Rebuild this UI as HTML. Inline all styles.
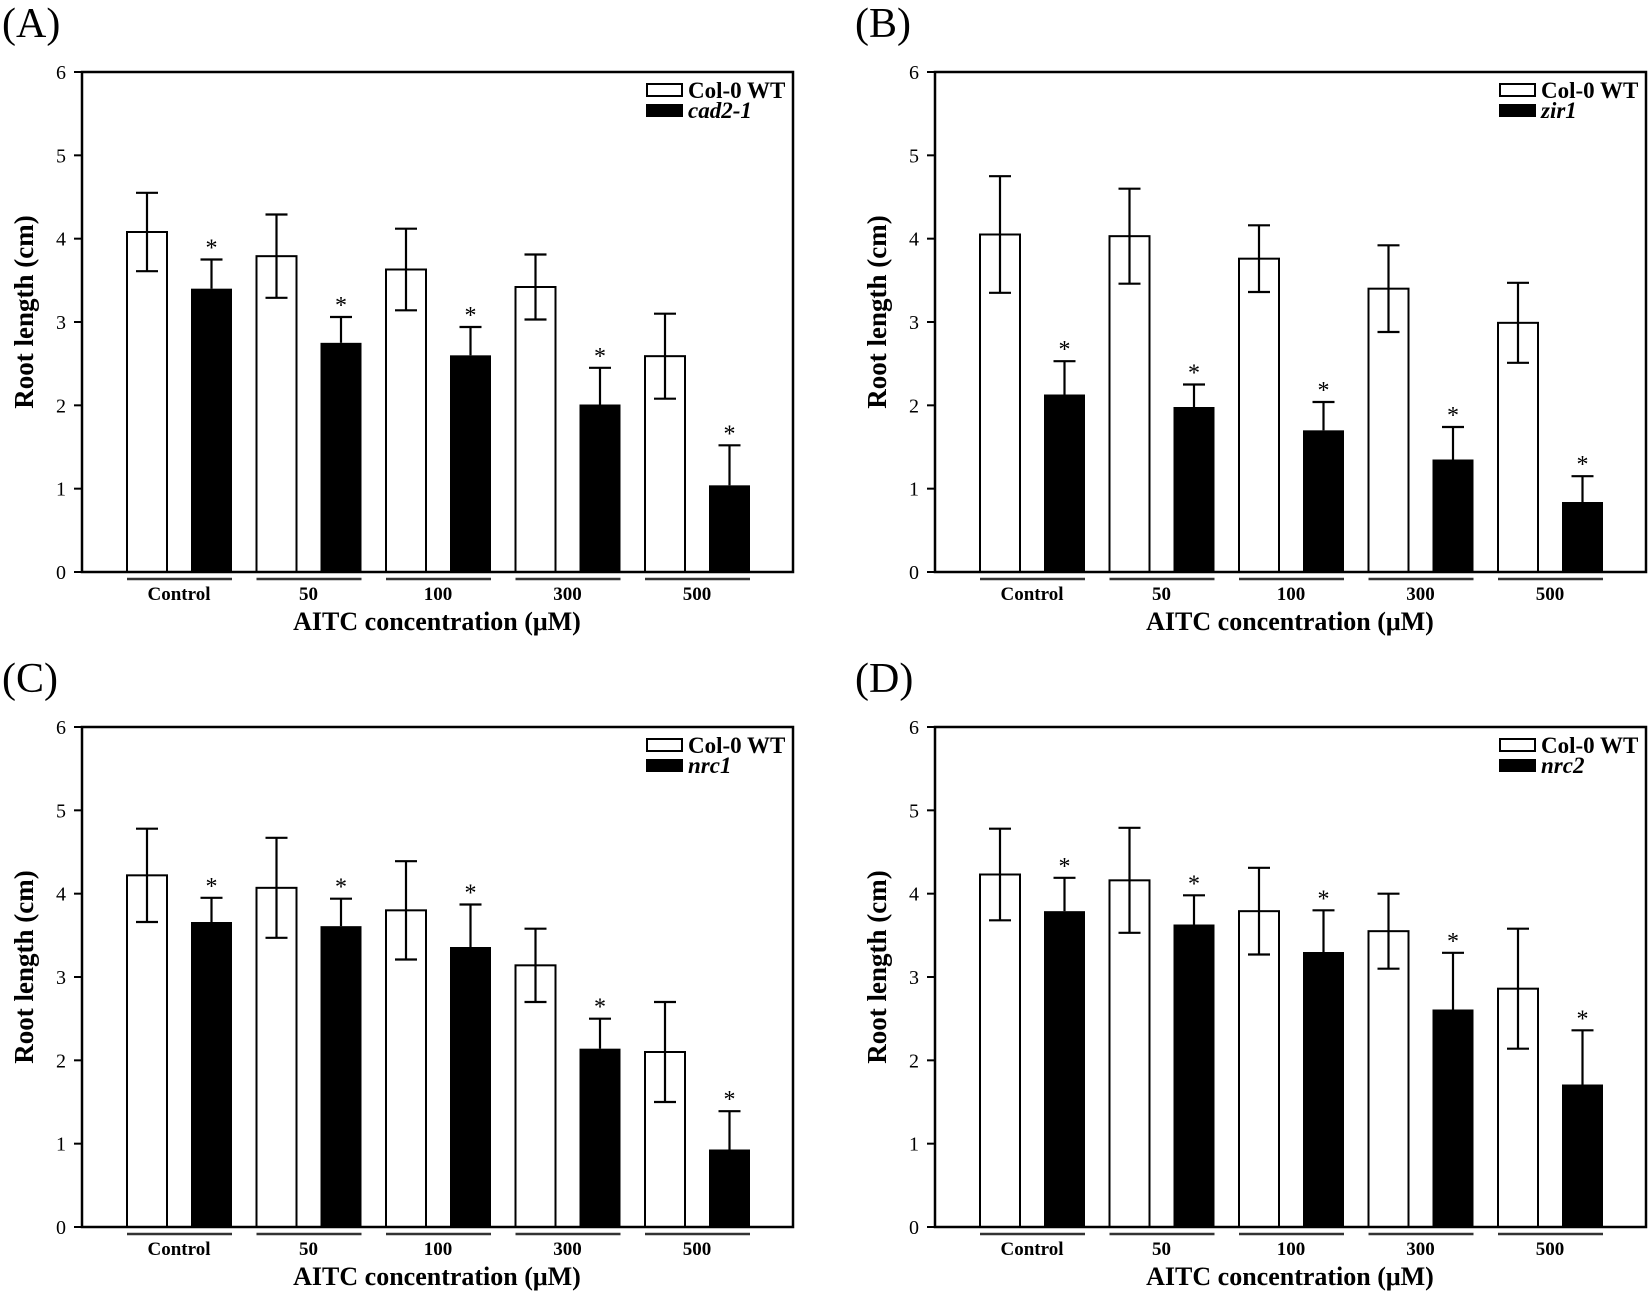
<!DOCTYPE html>
<html><head><meta charset="utf-8"><style>
html,body{margin:0;padding:0;background:#fff}
svg{display:block}
text{font-family:"Liberation Serif",serif;fill:#000}
</style></head><body>
<svg id="s" width="1650" height="1294" xmlns="http://www.w3.org/2000/svg"></svg>
<script>
const panels=[
 {dx:0,dy:0,lab:"(A)",mut:"cad2-1",
  w:[[4.08,.47],[3.79,.5],[3.63,.49],[3.42,.39],[2.59,.51]],
  b:[[3.40,.35],[2.75,.31],[2.60,.34],[2.01,.44],[1.04,.48]]},
 {dx:853,dy:0,lab:"(B)",mut:"zir1",
  w:[[4.05,.7],[4.03,.57],[3.76,.4],[3.40,.52],[2.99,.48]],
  b:[[2.13,.4],[1.98,.27],[1.70,.34],[1.35,.39],[0.84,.31]]},
 {dx:0,dy:655,lab:"(C)",mut:"nrc1",
  w:[[4.22,.56],[4.07,.6],[3.80,.59],[3.14,.44],[2.10,.6]],
  b:[[3.66,.29],[3.61,.33],[3.36,.51],[2.14,.36],[0.93,.46]]},
 {dx:853,dy:655,lab:"(D)",mut:"nrc2",
  w:[[4.23,.55],[4.16,.63],[3.79,.52],[3.55,.45],[2.86,.72]],
  b:[[3.79,.4],[3.63,.35],[3.30,.5],[2.61,.68],[1.71,.65]]}
];
const cats=["Control","50","100","300","500"];
let h="";
for(const p of panels){
 const X=x=>x+p.dx, Y=y=>y+p.dy;
 const L=82,R=793,T=72,B=572,u=(B-T)/6;
 const vy=v=>Y(B-v*u);
 h+=`<text x="${X(2)}" y="${Y(37)}" font-size="42">${p.lab}</text>`;
 for(let i=0;i<=6;i++){
  h+=`<line x1="${X(74)}" x2="${X(L)}" y1="${vy(i)}" y2="${vy(i)}" stroke="#000" stroke-width="2"/>`;
  h+=`<text x="${X(66)}" y="${vy(i)+7}" font-size="20" text-anchor="end">${i}</text>`;
 }
 h+=`<text transform="translate(${X(33)},${Y(312)}) rotate(-90)" font-size="27" font-weight="bold" text-anchor="middle">Root length (cm)</text>`;
 for(let k=0;k<5;k++){
  const g=127+k*129.5;
  const wv=p.w[k], bv=p.b[k];
  h+=`<rect x="${X(g)}" y="${vy(wv[0])}" width="40" height="${wv[0]*u}" fill="#fff" stroke="#000" stroke-width="2"/>`;
  h+=`<rect x="${X(g+64)}" y="${vy(bv[0])}" width="41" height="${bv[0]*u}" fill="#000"/>`;
  const cw=X(g+20), cb=X(g+84.5);
  h+=`<line x1="${cw}" x2="${cw}" y1="${vy(wv[0]+wv[1])}" y2="${vy(wv[0]-wv[1])}" stroke="#000" stroke-width="2.2"/>`;
  h+=`<line x1="${cw-11}" x2="${cw+11}" y1="${vy(wv[0]+wv[1])}" y2="${vy(wv[0]+wv[1])}" stroke="#000" stroke-width="2.2"/>`;
  h+=`<line x1="${cw-11}" x2="${cw+11}" y1="${vy(wv[0]-wv[1])}" y2="${vy(wv[0]-wv[1])}" stroke="#000" stroke-width="2.2"/>`;
  h+=`<line x1="${cb}" x2="${cb}" y1="${vy(bv[0]+bv[1])}" y2="${vy(bv[0])}" stroke="#000" stroke-width="2.2"/>`;
  h+=`<line x1="${cb-11}" x2="${cb+11}" y1="${vy(bv[0]+bv[1])}" y2="${vy(bv[0]+bv[1])}" stroke="#000" stroke-width="2.2"/>`;
  h+=`<text x="${cb}" y="${vy(bv[0]+bv[1])-4}" font-size="24" text-anchor="middle">*</text>`;
  h+=`<line x1="${X(g)}" x2="${X(g+105)}" y1="${Y(579)}" y2="${Y(579)}" stroke="#333" stroke-width="2.5"/>`;
  h+=`<text x="${X(g+52)}" y="${Y(600)}" font-size="19" font-weight="bold" text-anchor="middle">${cats[k]}</text>`;
 }
 h+=`<rect x="${X(L)}" y="${Y(T)}" width="${R-L}" height="${B-T}" fill="none" stroke="#000" stroke-width="2.5"/>`;
 h+=`<text x="${X(437)}" y="${Y(630)}" font-size="26" font-weight="bold" text-anchor="middle">AITC concentration (μM)</text>`;
 h+=`<rect x="${X(647)}" y="${Y(84)}" width="35" height="12" fill="#fff" stroke="#000" stroke-width="2"/>`;
 h+=`<text x="${X(688)}" y="${Y(98)}" font-size="23" font-weight="bold">Col-0 WT</text>`;
 h+=`<rect x="${X(646)}" y="${Y(104)}" width="37" height="13" fill="#000"/>`;
 h+=`<text x="${X(688)}" y="${Y(118)}" font-size="23" font-weight="bold" font-style="italic">${p.mut}</text>`;
}
document.getElementById("s").innerHTML=h;
</script>
</body></html>
